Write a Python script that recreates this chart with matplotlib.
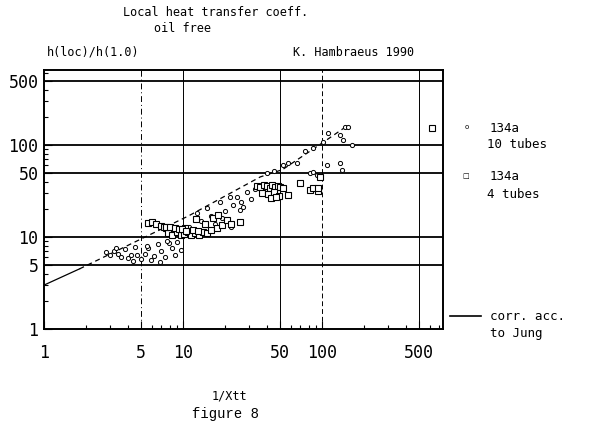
import matplotlib.pyplot as plt
from matplotlib.ticker import FixedLocator, LogLocator, NullFormatter


# R134a, 10 tubes (open circles)
tubes10_x = [2.8, 3.0, 3.2, 3.4, 3.6, 3.8, 4.0, 4.2, 4.5, 4.7, 5.0, 5.3, 5.6, 5.9,
             6.2, 6.6, 7.0, 7.4, 7.9, 8.4, 9.0, 9.6, 4.4, 5.5, 6.8, 8.8, 3.3, 7.7,
             11, 12.6, 13.5, 15, 16, 17, 18.5, 20, 21.8, 23, 24.4, 25.7, 27, 29,
             31, 14, 19, 22, 26, 33,
             40, 45, 52.5, 57, 66, 75, 86, 101, 110, 134, 141, 146, 154, 164,
             82, 92, 86, 108, 134, 139]
tubes10_y = [6.8, 6.4, 7.1, 6.6, 6.1, 7.4, 5.9, 6.4, 7.8, 6.3, 5.7, 6.6, 7.5, 5.6,
             6.2, 8.3, 7.0, 6.0, 8.6, 7.5, 8.8, 7.2, 5.5, 8.0, 5.4, 6.4, 7.6, 9.0,
             13, 18.2, 15, 20.6, 17, 14, 24, 19, 27, 22, 27, 19.7, 21, 30.8,
             26, 11.5, 16, 13, 24, 33,
             49.6, 52, 60, 64, 64, 85, 92, 108, 134, 128, 113, 157, 157, 100,
             49.6, 47, 51, 60.6, 63.8, 53.5]

# R134a, 4 tubes (open squares)
tubes4_x = [5.6, 6.0, 6.4, 7.0, 7.3, 7.6, 7.9, 8.2, 8.5, 8.8, 9.1, 9.4, 9.7, 10.0,
            10.4, 10.8, 11.2, 7.8, 8.4, 9.0, 9.6, 10.2, 10.8, 11.5, 12.2, 13.0,
            14.0, 15.0, 16.0, 17.5, 19, 20.7, 22, 25.7, 12.5, 14.5, 16.5, 18,
            7.5, 8.1, 8.7, 9.3, 9.9, 10.5, 11.8, 12.8,
            34, 36, 38, 40, 42, 44, 46, 48, 50, 52, 37, 41, 45, 49, 43, 47,
            57, 69, 82, 93, 97, 86, 93, 619]
tubes4_y = [14.2, 14.5, 13.8, 13.2, 12.8, 12.4, 12.0, 12.5, 11.8, 12.2, 11.6, 12.0,
            11.4, 11.8, 12.4, 11.3, 10.8, 11.0, 10.6, 11.2, 10.5, 10.8, 11.3,
            10.6, 11.0, 10.5, 11.3, 11.0, 12.0, 12.5, 13.5, 15.3, 13.8, 14.5,
            15.5, 14.0, 16.0, 17.5,
            12.9, 12.7, 12.4, 12.1, 12.3, 11.7, 12.0, 11.6,
            36, 35, 37, 36, 34, 37, 35, 36, 35, 34, 30, 29, 31, 28, 26.5, 27,
            28.6, 38.6, 32.3, 32, 45, 34, 34, 153]

# correlation acc. to Jung
corr_x = [1.0, 1.8, 11.0, 36.0, 52.0, 103.0, 155.0]
corr_y = [3.0, 4.5, 17.0, 45.0, 54.0, 108.0, 165.0]

tick_values = [1, 5, 10, 50, 100, 500]
tick_labels = ['1', '5', '10', '50', '100', '500']
h_grid = [5, 10, 50, 100, 500]
v_grid = [(5, (0, (6, 3, 1, 3))), (10, '-'), (50, '-'), (100, (0, (5, 3))), (500, '-')]

W, H = 595, 432
mono = 'DejaVu Sans Mono'

fig = plt.figure(figsize=(W / 100, H / 100), dpi=100)
ax = fig.add_axes([44 / W, 1 - 329 / H, 399 / W, 259 / H])
ax.set_xscale('log')
ax.set_yscale('log')
ax.set_xlim(1, 742)
ax.set_ylim(1, 653)

for v in h_grid:
    ax.axhline(v, color='black', lw=1.3, zorder=1)
for v, ls in v_grid:
    ax.axvline(v, color='black', lw=0.7, ls=ls, zorder=1)

ax.plot(tubes10_x, tubes10_y, ls='none', marker='o', ms=3, mfc='white',
        mec='black', mew=0.7, zorder=3)
ax.plot(tubes4_x, tubes4_y, ls='none', marker='s', ms=4.5, mfc='white',
        mec='black', mew=0.8, zorder=3)
ax.plot(corr_x[:2], corr_y[:2], color='black', lw=0.9, zorder=2)
ax.plot(corr_x[1:], corr_y[1:], color='black', lw=0.9, ls=(0, (4, 3)), zorder=2)

for side in ax.spines.values():
    side.set_linewidth(1.4)

ax.xaxis.set_major_locator(FixedLocator(tick_values))
ax.yaxis.set_major_locator(FixedLocator(tick_values))
ax.set_xticklabels(tick_labels, fontfamily=mono, fontsize=12)
ax.set_yticklabels(tick_labels, fontfamily=mono, fontsize=12)
ax.xaxis.set_minor_locator(LogLocator(subs=range(2, 10)))
ax.yaxis.set_minor_locator(LogLocator(subs=range(2, 10)))
ax.xaxis.set_minor_formatter(NullFormatter())
ax.yaxis.set_minor_formatter(NullFormatter())
ax.tick_params(which='both', direction='in', width=0.8)
ax.tick_params(which='major', length=6)
ax.tick_params(which='minor', length=3)
ax.tick_params(axis='x', pad=11)
ax.tick_params(axis='y', pad=4)

fig.text(216 / W, 1 - 13 / H, 'Local heat transfer coeff.', ha='center',
         va='center', fontfamily=mono, fontsize=8.5)
fig.text(183 / W, 1 - 29 / H, 'oil free', ha='center', va='center',
         fontfamily=mono, fontsize=8.5)
fig.text(47 / W, 1 - 52 / H, 'h(loc)/h(1.0)', ha='left', va='center',
         fontfamily=mono, fontsize=8.5)
fig.text(293 / W, 1 - 52 / H, 'K. Hambraeus 1990', ha='left', va='center',
         fontfamily=mono, fontsize=8.5)
fig.text(229 / W, 1 - 396 / H, '1/Xtt', ha='center', va='center',
         fontfamily=mono, fontsize=8.5)
fig.text(226 / W, 1 - 414 / H, 'figure 8', ha='center', va='center',
         fontfamily='Liberation Mono', fontsize=10)

# legend to the right of the axes
fig.text(467 / W, 1 - 127 / H, 'o', ha='center', va='center', fontsize=5)
fig.text(490 / W, 1 - 128 / H, '134a', ha='left', va='center',
         fontfamily=mono, fontsize=9)
fig.text(487 / W, 1 - 145 / H, '10 tubes', ha='left', va='center',
         fontfamily=mono, fontsize=9)
fig.text(466 / W, 1 - 176 / H, '\u25a1', ha='center', va='center', fontsize=5)
fig.text(490 / W, 1 - 177 / H, '134a', ha='left', va='center',
         fontfamily=mono, fontsize=9)
fig.text(487 / W, 1 - 194 / H, '4 tubes', ha='left', va='center',
         fontfamily=mono, fontsize=9)
fig.add_artist(plt.Line2D([450 / W, 481 / W], [1 - 316 / H, 1 - 316 / H],
                          color='black', lw=1.2))
fig.text(490 / W, 1 - 317 / H, 'corr. acc.', ha='left', va='center',
         fontfamily=mono, fontsize=9)
fig.text(490 / W, 1 - 334 / H, 'to Jung', ha='left', va='center',
         fontfamily=mono, fontsize=9)

fig.savefig('out.png', dpi=100, facecolor='white')
